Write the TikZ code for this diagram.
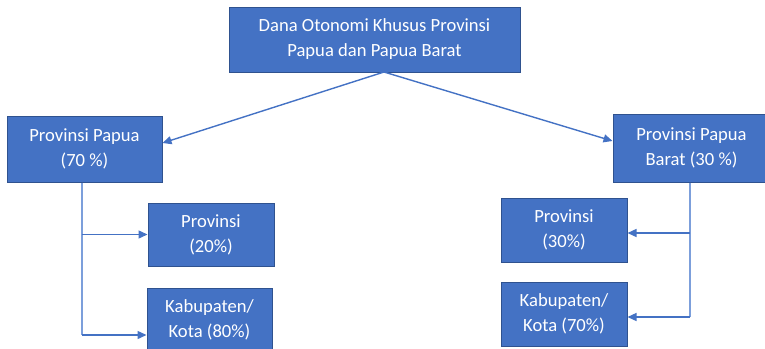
\documentclass[tikz,border=0pt]{standalone}
\usepackage{fontspec}
\setmainfont{Carlito}
\usetikzlibrary{arrows.meta}
\definecolor{boxfill}{HTML}{4472C4}
\definecolor{boxline}{HTML}{2F528F}
\definecolor{conn}{HTML}{4472C4}
\definecolor{trunk}{HTML}{7C9FDB}
\tikzset{
  box/.style={draw=boxline, line width=1pt, fill=boxfill, text=white, align=center,
    inner sep=0pt, font=\fontsize{18.6}{25}\selectfont},
  arr/.style={draw=conn, line width=1.4pt, -{Triangle[length=9pt,width=8pt]}},
  trunkline/.style={draw=trunk, line width=1.4pt},
}
\begin{document}
\begin{tikzpicture}[x=1pt,y=-1pt]
\useasboundingbox (0,0) rectangle (765,348);
\clip (0,0) rectangle (765,348);
\node[box, minimum width=291pt, minimum height=65pt] (top) at (374.5,39.5) {Dana Otonomi Khusus Provinsi\\Papua dan Papua Barat};
\node[box, minimum width=155pt, minimum height=66pt] (pp) at (84.5,149) {Provinsi Papua\\(70 \%)};
\node[box, minimum width=126pt, minimum height=63pt] (prov20) at (211,234.5) {Provinsi\\(20\%)};
\node[box, minimum width=125pt, minimum height=64pt] (kab80) at (209.5,320) {Kabupaten/\\Kota (80\%)};
\node[box, minimum width=157pt, minimum height=68pt] (ppb) at (691.5,148) {Provinsi Papua\\Barat (30 \%)};
\node[box, minimum width=126pt, minimum height=64pt] (prov30) at (564,230) {Provinsi\\(30\%)};
\node[box, minimum width=126pt, minimum height=64pt] (kab70) at (564,314) {Kabupaten/\\Kota (70\%)};
% main arrows
\coordinate (apex) at (384,72);
\draw[arr] (apex) -- (pp.east |- 0,143);
\draw[arr] (apex) -- (ppb.west |- 0,141);
% left tree
\coordinate (lt) at (82,182.5);
\coordinate (lb) at (82,335);
\coordinate (lm) at (82,234.5);
\draw[trunkline] (lt) -- (lb);
\draw[arr] (lm) -- (prov20.west |- lm);
\draw[arr] (lb) -- (kab80.west |- lb);
% right tree
\coordinate (rt) at (690,182.5);
\coordinate (rb) at (690,317);
\coordinate (rm) at (690,233);
\draw[trunkline] (rt) -- (rb);
\draw[arr] (rm) -- (prov30.east |- rm);
\draw[arr] (rb) -- (kab70.east |- rb);
\end{tikzpicture}
\end{document}
